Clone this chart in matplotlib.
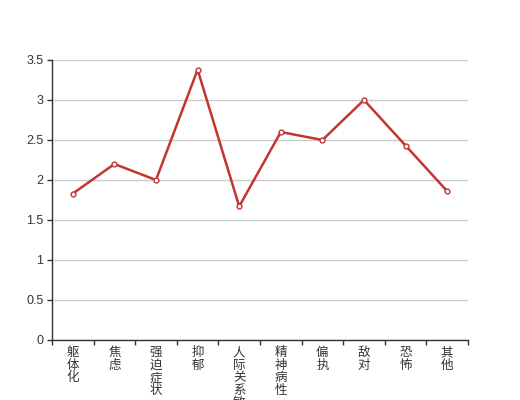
import matplotlib
matplotlib.use("Agg")
import matplotlib.pyplot as plt
import numpy as np

plt.rcParams['font.family'] = ['Noto Sans CJK SC', 'DejaVu Sans']

# Dati
categorie = ["躯体化", "焦虑", "强迫症状", "抑郁", "人际关系敏感",
             "精神病性", "偏执", "敌对", "恐怖", "其他"]
valori = [1.83, 2.2, 2.0, 3.38, 1.67, 2.6, 2.5, 3.0, 2.43, 1.86]
y_ticks = [0, 0.5, 1, 1.5, 2, 2.5, 3, 3.5]
y_tick_labels = ["0", "0.5", "1", "1.5", "2", "2.5", "3", "3.5"]

fig = plt.figure(figsize=(5.2, 4), dpi=100)
ax = fig.add_axes([0.1, 0.15, 0.8, 0.7])

x = np.arange(len(categorie))
ax.plot(x, valori, color="#c23531", linewidth=1.8, marker="o", markersize=3.5,
        markerfacecolor="white", markeredgecolor="#c23531", markeredgewidth=1, zorder=3)

ax.set_xlim(-0.5, len(categorie) - 0.5)
ax.set_ylim(0, 3.5)

# Griglia orizzontale
ax.set_yticks(y_ticks)
ax.set_yticklabels(y_tick_labels, family=["Liberation Sans", "DejaVu Sans"])
ax.yaxis.grid(True, color="#cccccc", linewidth=1)
ax.set_axisbelow(True)

# Etichette verticali (un carattere per riga)
ax.set_xticks(x)
ax.set_xticklabels(["\n".join(c) for c in categorie], linespacing=0.95, va="top")
ax.set_xticks(np.arange(len(categorie) + 1) - 0.5, minor=True)
ax.tick_params(axis="x", which="major", length=0, pad=4.5, labelsize=9, labelcolor="#333333")
ax.tick_params(axis="x", which="minor", length=3.6, width=1, color="#333333", direction="out")
ax.tick_params(axis="y", length=3.6, width=1, color="#333333", pad=2.5, labelsize=9, labelcolor="#333333")

for lato in ["top", "right"]:
    ax.spines[lato].set_visible(False)
for lato in ["left", "bottom"]:
    ax.spines[lato].set_color("#333333")
    ax.spines[lato].set_linewidth(1)

fig.savefig("out.png", dpi=100)
